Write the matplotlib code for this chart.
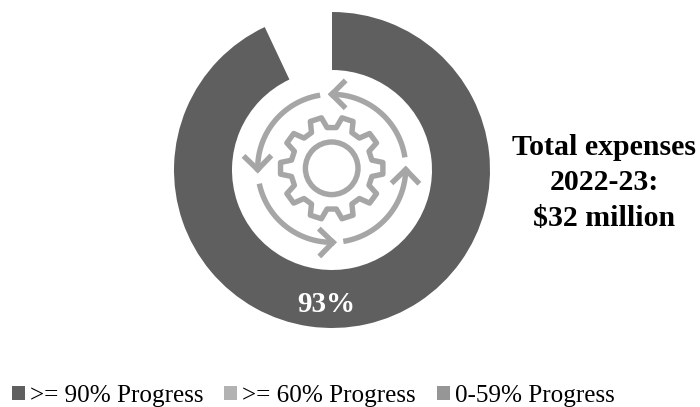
import numpy as np
import matplotlib
matplotlib.use("Agg")
import matplotlib.pyplot as plt
from matplotlib.patches import Circle, Polygon

# Data
categories = [">= 90% Progress", ">= 60% Progress", "0-59% Progress"]
values = [93, 0, 0]
colors = ["#5f5f5f", "#b2b2b2", "#969696"]
center_label = "93%"
side_title = "Total expenses\n2022-23:\n$32 million"

remainder = 100 - sum(values)
plt.rcParams["font.family"] = ["Liberation Serif", "DejaVu Serif"]
fig = plt.figure(figsize=(7, 4.07), dpi=100)
ax = fig.add_axes([0, 0, 1, 1])
H = 407
cx, cy = 332, H - 170
wedges, _ = ax.pie(values + [remainder], colors=colors + ["none"], startangle=90,
                   counterclock=False, radius=158, center=(cx, cy),
                   wedgeprops=dict(width=58, linewidth=0))
ax.set_xlim(0, 700)
ax.set_ylim(0, H)
ax.set_aspect("equal")
ax.axis("off")

# Icon
ic = "#a6a6a6"
ix, iy = 331.7, H - 168.3
lw = 3.9
ax.add_patch(Circle((ix, iy), 26.3, fill=False, ec=ic, lw=lw))
pts = []
for k in range(10):
    a = k * 36.0
    for da, r in [(-11.5, 41), (-6.5, 51.5), (6.5, 51.5), (11.5, 41)]:
        t = np.radians(a + da)
        pts.append((ix + r * np.cos(t), iy + r * np.sin(t)))
ax.add_patch(Polygon(pts, closed=True, fill=False, ec=ic, lw=lw, joinstyle="round"))
R = 74
for start, end in [(8.5, 90), (99, 181), (192, 271), (279, 359)]:
    t = np.radians(np.linspace(start, end, 60))
    ax.plot(ix + R * np.cos(t), iy + R * np.sin(t), color=ic, lw=lw, solid_capstyle="butt")
    tip = np.array([ix + R * np.cos(t[-1]), iy + R * np.sin(t[-1])])
    back = np.degrees(t[-1]) - 90  # opposite of direction of travel
    for off in (-45, 45):
        b = np.radians(back + off)
        ax.plot([tip[0], tip[0] + 17 * np.cos(b)], [tip[1], tip[1] + 17 * np.sin(b)],
                color=ic, lw=lw, solid_capstyle="projecting")

ax.text(326, H - 304, center_label, color="white", fontsize=21, fontweight="bold",
        ha="center", va="center")
ax.text(604, H - 183, side_title, color="black", fontsize=21.5, fontweight="bold",
        ha="center", va="center", linespacing=1.42)

ax.legend(wedges[:3], categories, ncol=3, frameon=False, fontsize=18.1,
          loc="lower left", bbox_to_anchor=(12 / 700, 0 / H), borderaxespad=0,
          borderpad=0, handlelength=0.52, handleheight=0.52, handletextpad=0.2,
          columnspacing=0.82)
fig.savefig("out.png", dpi=100)
